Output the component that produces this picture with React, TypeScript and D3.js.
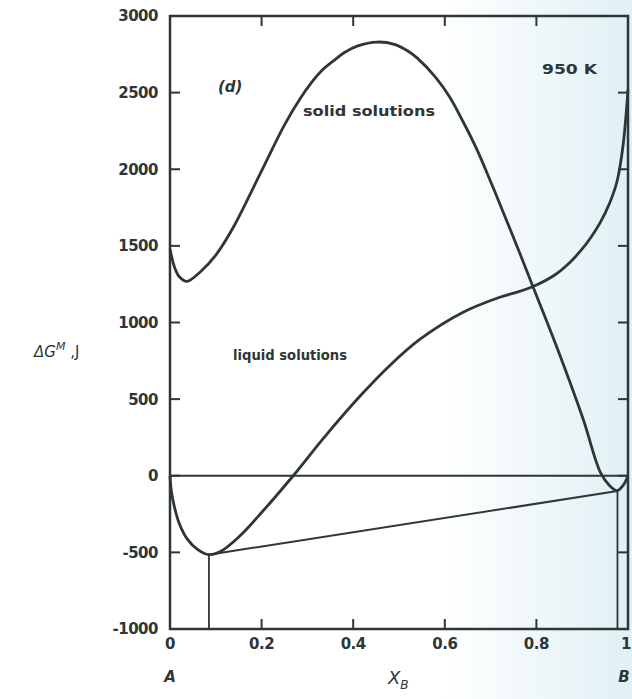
import React from 'react';
import * as d3 from 'd3';

// values (x = mole fraction of B, y = ΔG^M in J)
const solidX = [0, 0.01, 0.02, 0.037, 0.066, 0.1, 0.138, 0.2, 0.25, 0.284, 0.31, 0.33, 0.356, 0.38, 0.41, 0.452, 0.49, 0.52, 0.54, 0.58, 0.611, 0.64, 0.67, 0.7, 0.72, 0.764, 0.793, 0.847, 0.902, 0.94, 0.96, 0.976, 0.99, 1];
const solidY = [1480, 1360, 1300, 1268, 1330, 1440, 1620, 1990, 2290, 2460, 2570, 2640, 2705, 2760, 2805, 2830, 2815, 2770, 2725, 2600, 2470, 2310, 2130, 1920, 1775, 1450, 1230, 820, 370, 20, -65, -98, -60, 0];

const liquidX = [0, 0.003, 0.009, 0.02, 0.037, 0.06, 0.085, 0.11, 0.15, 0.2, 0.269, 0.334, 0.415, 0.48, 0.546, 0.64, 0.72, 0.76, 0.8, 0.84, 0.873, 0.9, 0.92, 0.939, 0.96, 0.976, 0.989, 1];
const liquidY = [0, -100, -195, -310, -410, -480, -515, -495, -400, -240, 0, 241, 520, 720, 891, 1067, 1165, 1200, 1245, 1310, 1392, 1480, 1560, 1650, 1780, 1920, 2150, 2520];

// common tangent points
const tangentX = [0.085, 0.977];
const tangentY = [-515, -100];

const xTicks = [0, 0.2, 0.4, 0.6, 0.8, 1];
const yTicks = [-1000, -500, 0, 500, 1000, 1500, 2000, 2500, 3000];

const W = 632;
const H = 699;
const ink = '#2e3636';
const font = 'DejaVu Sans, sans-serif';

const App = () => {
  const x = d3.scaleLinear().domain([0, 1]).range([170, 628]);
  const y = d3.scaleLinear().domain([-1000, 3000]).range([629, 16]);

  const line = d3.line<[number, number]>()
    .x(d => x(d[0]))
    .y(d => y(d[1]))
    .curve(d3.curveCatmullRom.alpha(0.5));

  const solid = solidX.map((v, i) => [v, solidY[i]] as [number, number]);
  const liquid = liquidX.map((v, i) => [v, liquidY[i]] as [number, number]);

  const [x0, x1] = x.range();
  const [yb, yt] = y.range();
  const tick = 10;

  return (
    <svg width={W} height={H} style={{ position: 'absolute', left: 0, top: 0 }}>
      <defs>
        <linearGradient id="paper" x1="0" x2="1" y1="0" y2="0">
          <stop offset="0" stopColor="#ffffff" />
          <stop offset="0.7" stopColor="#ffffff" />
          <stop offset="1" stopColor="#e0f0f5" />
        </linearGradient>
      </defs>
      <rect width={W} height={H} fill="url(#paper)" />

      {/* frame */}
      <rect x={x0} y={yt} width={x1 - x0} height={yb - yt} fill="none" stroke={ink} strokeWidth={2.5} />

      {/* left / right ticks */}
      {yTicks.filter(t => t > -1000 && t < 3000).map(t => (
        <g key={'y' + t}>
          <line x1={x0} x2={x0 + tick} y1={y(t)} y2={y(t)} stroke={ink} strokeWidth={2} />
          <line x1={x1} x2={x1 - tick} y1={y(t)} y2={y(t)} stroke={ink} strokeWidth={2} />
        </g>
      ))}
      {yTicks.map(t => (
        <text key={'yl' + t} x={158} y={y(t)} dy="0.36em" textAnchor="end"
          fontFamily={font} fontWeight="bold" fontSize={15} fill={ink} letterSpacing={-0.5}>
          {t}
        </text>
      ))}

      {/* top / bottom ticks */}
      {xTicks.filter(t => t > 0 && t < 1).map(t => (
        <g key={'x' + t}>
          <line x1={x(t)} x2={x(t)} y1={yt} y2={yt + tick} stroke={ink} strokeWidth={2} />
          <line x1={x(t)} x2={x(t)} y1={yb} y2={yb - tick} stroke={ink} strokeWidth={2} />
        </g>
      ))}
      {xTicks.map(t => (
        <text key={'xl' + t} x={t === 1 ? x(t) - 2 : x(t)} y={649} textAnchor="middle"
          fontFamily={font} fontWeight="bold" fontSize={15} fill={ink} letterSpacing={-0.5}>
          {t === 0 || t === 1 ? t : t.toFixed(1)}
        </text>
      ))}

      {/* zero line */}
      <line x1={x0} x2={x1} y1={y(0)} y2={y(0)} stroke={ink} strokeWidth={1.8} />

      {/* common tangent and its verticals */}
      <line x1={x(tangentX[0])} y1={y(tangentY[0])} x2={x(tangentX[1])} y2={y(tangentY[1])} stroke={ink} strokeWidth={2} />
      {tangentX.map((t, i) => (
        <line key={'v' + i} x1={x(t)} x2={x(t)} y1={y(tangentY[i])} y2={yb} stroke={ink} strokeWidth={1.8} />
      ))}

      {/* curves */}
      <path d={line(solid) ?? ''} fill="none" stroke={ink} strokeWidth={2.8} />
      <path d={line(liquid) ?? ''} fill="none" stroke={ink} strokeWidth={2.8} />

      {/* labels */}
      <text x={218} y={92} fontFamily={font} fontStyle="italic" fontWeight="bold" fontSize={15} fill={ink}>(d)</text>
      <text x={303} y={116} fontFamily={font} fontWeight="bold" fontSize={14} fill={ink}
        textLength={132} lengthAdjust="spacingAndGlyphs">solid solutions</text>
      <text x={542} y={74} fontFamily={font} fontWeight="bold" fontSize={14} fill={ink}
        textLength={55} lengthAdjust="spacingAndGlyphs">950 K</text>
      <text x={233} y={360} fontFamily={font} fontWeight="bold" fontSize={14} fill={ink}
        textLength={114} lengthAdjust="spacingAndGlyphs">liquid solutions</text>

      <text x={34} y={357} fontFamily={font} fontSize={15} fill={ink} fontStyle="italic">
        ΔG<tspan dy={-7} fontSize={11}>M</tspan><tspan dy={7} fontStyle="normal"> ,J</tspan>
      </text>

      <text x={x(0)} y={682} textAnchor="middle" fontFamily={font} fontWeight="bold" fontStyle="italic" fontSize={15} fill={ink}>A</text>
      <text x={x(1) - 4} y={682} textAnchor="middle" fontFamily={font} fontWeight="bold" fontStyle="italic" fontSize={15} fill={ink}>B</text>
      <text x={388} y={684} fontFamily={font} fontStyle="italic" fontSize={18} fill={ink}>
        X<tspan dy={5} fontSize={12}>B</tspan>
      </text>
    </svg>
  );
};

export default App;
